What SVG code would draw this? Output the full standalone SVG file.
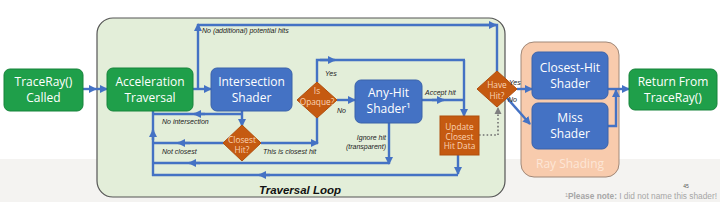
<svg xmlns="http://www.w3.org/2000/svg" width="720" height="202" viewBox="0 0 720 202">
<defs>
<marker id="ah" markerUnits="userSpaceOnUse" markerWidth="9" markerHeight="9" refX="7" refY="4.5" orient="auto"><path d="M0,0.5 L8,4.5 L0,8.5 Z" fill="#4472c4"/></marker>
<marker id="ahg" markerUnits="userSpaceOnUse" markerWidth="8" markerHeight="8" refX="6" refY="4" orient="auto"><path d="M0,0.5 L7,4 L0,7.5 Z" fill="#7f7f7f"/></marker>
<style>
.green{fill:#1f9f4a;stroke:#17843b;stroke-width:1}
.blue{fill:#4472c4;stroke:#3a62aa;stroke-width:1}
.orange{fill:#c55a11;stroke:#b04e0d;stroke-width:1}
.bt{font-family:"Open Sans","Noto Sans",sans-serif;font-size:12px;fill:#ffffff;text-anchor:middle}
.dt{font-family:"Open Sans","Noto Sans",sans-serif;font-size:8.3px;fill:#fbd5b5;text-anchor:middle}
.lb{font-family:"Liberation Sans",Arial,sans-serif;font-size:7px;font-style:italic;fill:#222}
.c{fill:none;stroke:#4472c4;stroke-width:2.4}
.m{marker-end:url(#ah)}
</style>
</defs>
<rect x="0" y="0" width="720" height="202" fill="#ffffff"/>
<rect x="0" y="159" width="720" height="43" fill="#f4f3f1"/>

<g id="traversal-loop">
<rect x="97" y="18" width="408" height="179" rx="16" fill="#e3eed9" stroke="#555555" stroke-width="1.2"/>
<text x="300" y="194" font-family="Liberation Sans,Arial,sans-serif" font-size="11.5px" font-weight="bold" font-style="italic" fill="#111" text-anchor="middle">Traversal Loop</text>
</g>
<g id="ray-shading">
<rect x="521" y="42" width="98" height="135" rx="13" fill="#f8cbad" stroke="#a08878" stroke-width="1"/>
<text x="570" y="168" font-family="Open Sans,Noto Sans,sans-serif" font-size="12px" fill="#fde6d6" text-anchor="middle">Ray Shading</text>
</g>

<g id="connectors">
<path class="c m" d="M83,89 H96"/>
<path class="c m" d="M96,89 H107"/>
<path class="c m" d="M193,89 H211"/>
<path class="c m" d="M198,89 V24"/>
<path class="c" d="M198,25 H497 V72"/>
<path class="c m" d="M470,25 H496"/>
<path class="c m" d="M242,111 V126"/>
<path class="c" d="M242,114 H153"/>
<path class="c m" d="M205,114 H194"/>
<path class="c" d="M224,143 H153"/>
<path class="c m" d="M190,143 H178"/>
<path class="c m" d="M389,123 V164"/>
<path class="c" d="M389,163 H153"/>
<path class="c m" d="M200,163 H189"/>
<path class="c m" d="M458,155 V174"/>
<path class="c" d="M458,175 H152"/>
<path class="c m" d="M270,175 H259"/>
<path class="c" d="M153,176 V111"/>
<path class="c m" d="M153,140 V130"/>
<path class="c m" d="M261,143 H318"/>
<path class="c" d="M317,143 V117"/>
<path class="c m" d="M464,60 V116"/>
<path class="c" d="M317,82 V60 H465"/>
<path class="c m" d="M320,60 H335"/>
<path class="c m" d="M337,100 H355"/>
<path class="c" d="M422,100 H465"/>
<path class="c m" d="M432,100 H444"/>
<path d="M479,135 H498 V108" fill="none" stroke="#6f6f6f" stroke-width="1.6" stroke-dasharray="1.6,2.2" marker-end="url(#ahg)"/>
<path class="c m" d="M517,89 H532"/>
<path class="c m" d="M507,98 L530,124"/>
<path class="c m" d="M608,89 H629"/>
<path class="c m" d="M608,126 H616 V90"/>
</g>

<g id="traceray-called">
<rect class="green" x="4" y="69" width="79" height="42" rx="6"/>
<text class="bt" x="43.5" y="86.3">TraceRay()</text>
<text class="bt" x="43.5" y="102.3">Called</text>
</g>
<g id="acceleration-traversal">
<rect class="green" x="107" y="68" width="86" height="43" rx="6"/>
<text class="bt" x="150" y="86.3">Acceleration</text>
<text class="bt" x="150" y="102.3">Traversal</text>
</g>
<g id="intersection-shader">
<rect class="blue" x="211" y="68" width="81" height="43" rx="6"/>
<text class="bt" x="251.5" y="86.3">Intersection</text>
<text class="bt" x="251.5" y="102.3">Shader</text>
</g>
<g id="is-opaque">
<polygon class="orange" points="317,82 337,100 317,118 297,100"/>
<text class="dt" x="317" y="94">Is</text>
<text class="dt" x="317" y="105">Opaque?</text>
</g>
<g id="any-hit-shader">
<rect class="blue" x="355" y="80" width="67" height="43" rx="6"/>
<text class="bt" x="388.5" y="97.3">Any-Hit</text>
<text class="bt" x="388.5" y="113.3">Shader¹</text>
</g>
<g id="closest-hit-decision">
<polygon class="orange" points="242,125 261,143 242,161 223,143"/>
<text class="dt" x="242" y="143">Closest</text>
<text class="dt" x="242" y="153">Hit?</text>
</g>
<g id="update-closest-hit-data">
<rect class="orange" x="440" y="116" width="39" height="39"/>
<text class="dt" x="459.5" y="130">Update</text>
<text class="dt" x="459.5" y="139.5">Closest</text>
<text class="dt" x="459.5" y="149">Hit Data</text>
</g>
<g id="have-hit">
<polygon class="orange" points="497,71 517,89 497,107 477,89"/>
<text class="dt" x="497" y="88">Have</text>
<text class="dt" x="497" y="99">Hit?</text>
</g>
<g id="closest-hit-shader">
<rect class="blue" x="532" y="52" width="76" height="47" rx="6"/>
<text class="bt" x="570" y="72.3">Closest-Hit</text>
<text class="bt" x="570" y="88.3">Shader</text>
</g>
<g id="miss-shader">
<rect class="blue" x="532" y="103" width="76" height="46" rx="6"/>
<text class="bt" x="570" y="122.3">Miss</text>
<text class="bt" x="570" y="138.3">Shader</text>
</g>
<g id="return-from-traceray">
<rect class="green" x="629" y="69" width="88" height="41" rx="6"/>
<text class="bt" x="673" y="86.3">Return From</text>
<text class="bt" x="673" y="102.3">TraceRay()</text>
</g>

<g id="labels">
<text class="lb" x="202" y="32.5">No (additional) potential hits</text>
<text class="lb" x="162" y="123.5">No intersection</text>
<text class="lb" x="162" y="153.5">Not closest</text>
<text class="lb" x="263" y="153.5">This is closest hit</text>
<text class="lb" x="325" y="75.5">Yes</text>
<text class="lb" x="337" y="112.5">No</text>
<text class="lb" x="386" y="139.5" text-anchor="end">Ignore hit</text>
<text class="lb" x="386" y="148.5" text-anchor="end">(transparent)</text>
<text class="lb" x="425" y="94.5">Accept hit</text>
<text class="lb" x="509" y="84.5">Yes</text>
<text class="lb" x="508" y="102">No</text>
</g>
<g id="footer">
<text x="686" y="187.5" font-family="Liberation Sans,Arial,sans-serif" font-size="5px" fill="#555" text-anchor="middle">45</text>
<text x="717" y="199" font-family="Liberation Sans,Arial,sans-serif" font-size="8.3px" fill="#a6a6a6" text-anchor="end"><tspan font-size="5.5px" dy="-2.5">1</tspan><tspan font-weight="bold" dy="2.5">Please note: </tspan>I did not name this shader!</text>
</g>
</svg>
